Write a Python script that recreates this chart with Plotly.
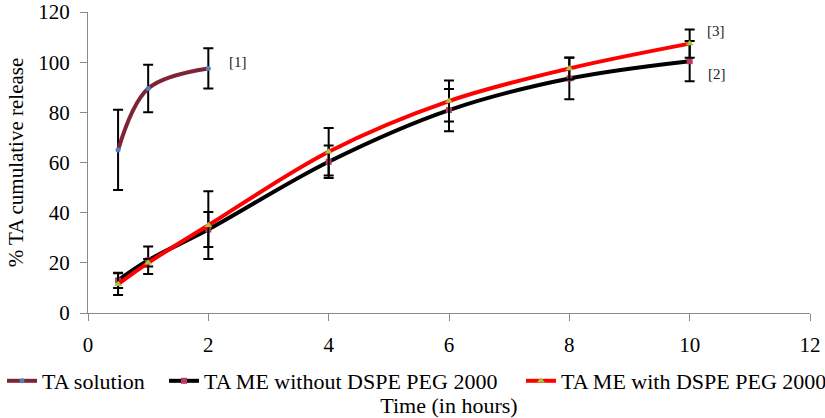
import plotly.graph_objects as go

# ---- data ----
time_solution = [0.5, 1, 2]
ta_solution = [65, 89.5, 97.5]
ta_solution_err = [16, 9.5, 8]

time_me = [0.5, 1, 2, 4, 6, 8, 10]
me_without = [13, 21, 33.3, 60.3, 80.9, 93.5, 100.4]
me_without_err = [3, 5.5, 7, 6.5, 8.4, 8.3, 8]
me_with = [11.5, 20, 35, 64.3, 84.5, 97.5, 107.4]
me_with_err = [4.3, 1.5, 13.5, 9.5, 8.2, 4.4, 5.6]

series_names = ["TA solution", "TA ME without DSPE PEG 2000", "TA ME with DSPE PEG 2000"]
x_ticks = [0, 2, 4, 6, 8, 10, 12]
y_ticks = [0, 20, 40, 60, 80, 100, 120]

labels_text = ["[1]", "[2]", "[3]"]
labels_x = [2.49, 10.46, 10.44]
labels_y = [100, 95.2, 112.3]

FONT = "Liberation Serif"

# figure geometry (pixels)
W, H = 825, 418
ML, MR, MT, MB = 88, 15, 12, 105
PW = W - ML - MR
PH = H - MT - MB
legend_px = [2, 164, 521]          # left edge of each legend entry
legend_y_px = 381                  # vertical centre of legend row

def err(vals):
    return dict(type="data", array=vals, visible=True, color="black",
                thickness=2, width=5)

fig = go.Figure()
fig.add_trace(go.Scatter(
    x=time_solution, y=ta_solution, name=series_names[0], legend="legend",
    mode="lines+markers", line=dict(color="#7E2535", width=4, shape="spline"),
    marker=dict(color="#4F81BD", size=5, symbol="circle"),
    error_y=err(ta_solution_err)))
fig.add_trace(go.Scatter(
    x=time_me, y=me_without, name=series_names[1], legend="legend2",
    mode="lines+markers", line=dict(color="black", width=4, shape="spline"),
    marker=dict(color="#BE3A5C", size=6, symbol="square"),
    error_y=err(me_without_err)))
fig.add_trace(go.Scatter(
    x=time_me, y=me_with, name=series_names[2], legend="legend3",
    mode="lines+markers", line=dict(color="#FF0000", width=4, shape="spline"),
    marker=dict(color="#A8C43A", size=7, symbol="triangle-up"),
    error_y=err(me_with_err)))

for t, xx, yy in zip(labels_text, labels_x, labels_y):
    fig.add_annotation(x=xx, y=yy, text=t, showarrow=False,
                       font=dict(family=FONT, size=15, color="#222"))

axis_common = dict(showline=True, linecolor="#8A8A8A", linewidth=1,
                   ticks="outside", tickcolor="#8A8A8A", ticklen=7,
                   showgrid=False, zeroline=False,
                   tickfont=dict(family=FONT, size=21, color="black"))

fig.update_xaxes(range=[0, 12], tickvals=x_ticks, ticklabelstandoff=6,
                 title=dict(text="Time (in hours)", standoff=42,
                            font=dict(family=FONT, size=22, color="black")),
                 **axis_common)
fig.update_yaxes(range=[0, 120], tickvals=y_ticks, ticklabelstandoff=6,
                 title=dict(text="% TA cumulative release", standoff=8,
                            font=dict(family=FONT, size=21, color="black")),
                 **axis_common)

def legend_cfg(px):
    return dict(orientation="h", x=(px - ML) / PW, xanchor="left",
                y=(MT + PH - legend_y_px) / PH, yanchor="middle",
                font=dict(family=FONT, size=22, color="black"),
                itemwidth=30, bgcolor="rgba(0,0,0,0)")

fig.update_layout(
    width=W, height=H,
    margin=dict(l=ML, r=MR, t=MT, b=MB, autoexpand=False),
    paper_bgcolor="white", plot_bgcolor="white",
    showlegend=True,
    legend=legend_cfg(legend_px[0]),
    legend2=legend_cfg(legend_px[1]),
    legend3=legend_cfg(legend_px[2]),
    font=dict(family=FONT),
)

fig.write_html("out.html", config={"displayModeBar": False},
               post_script="document.body.style.margin='0';")
